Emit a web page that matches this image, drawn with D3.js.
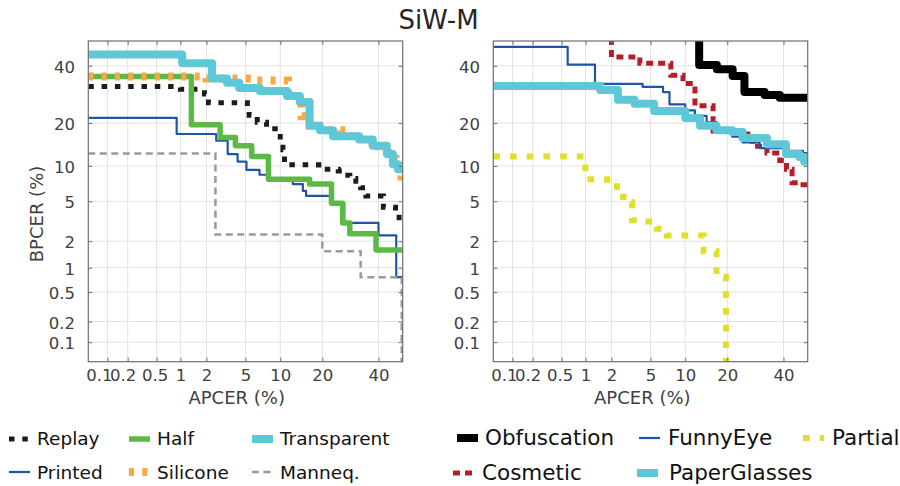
<!DOCTYPE html>
<html><head><meta charset="utf-8">
<script src="https://cdn.jsdelivr.net/npm/d3@7"></script>
<style>body{margin:0;background:#fff}svg{display:block}text{font-family:"DejaVu Sans",sans-serif}</style>
</head><body><svg id="c" width="900" height="486"></svg>
<script>
// ---- data: [APCER %, BPCER %] step points ----
const replay = [[0.05,32],[1.0,31],[1.9,29.3],[2.1,26.3],[5.2,24],[5.4,22.3],[6.4,20.2],[7.7,18.4],[10,15.2],[10.5,13.2],[10.8,10.2],[19,9.4],[25,9.1],[26.5,8.4],[29,7.9],[31.2,7.5],[33,6.6],[35,5.6],[42,4.4],[47,3.9],[48.5,3.1],[50,3.1]];
const printed = [[0.05,21.5],[0.9,17],[2.55,15.3],[3.35,12.3],[4.2,10.8],[5.1,9.3],[6.7,8.5],[8,7.8],[12.5,7.1],[14.8,6.2],[15.6,5.6],[22.5,4.7],[27,3.1],[40,2.3],[47.3,0.77],[50,0.77]];
const half = [[0.05,35.8],[1.35,19.5],[2.8,16.1],[4,14.1],[5.7,11.8],[8,7.8],[16.5,7.1],[22.8,4.8],[26.5,3.1],[29,2.4],[39,1.6],[50,1.6]];
const silicone = [[0.05,35.8],[2,35],[6,34.3],[11.5,28.5],[14.5,22],[16.5,19.2],[21,18],[26,16.5],[33,15],[40,14],[44,12.3],[47,11.5],[49.5,7],[50,7]];
const transparent = [[0.05,44.5],[1.05,41],[2.3,35],[3.3,33.4],[4.35,31.5],[6.75,30.4],[11.3,28.6],[14.1,26.6],[16.5,19.2],[19.3,18],[23.3,16.4],[32.4,15.6],[37.7,14.1],[43.4,12.3],[45.9,10.3],[48,9.4],[50,9.4]];
const manneq = [[0.05,12.4],[2.5,2.35],[20,1.55],[33,0.77],[49.6,0.03],[50,0.03]];

const obfuscation = [[12.8,70],[12.8,40.3],[17.1,38.6],[21.6,36],[25.4,30],[32.6,29],[38.5,28],[50,28]];
const cosmetic = [[2,70],[2,43.5],[3.95,41],[7.6,36.3],[9.6,33.1],[11.9,25.3],[16.1,17.8],[23.8,17.8],[24.8,17],[28.2,14],[33.5,12.5],[38.5,11],[41.2,9.4],[43.5,7.3],[46.5,7],[50,7]];
const funnyEye = [[0.05,47.6],[0.6,40.4],[1.3,33],[4.2,31.9],[6.5,30],[7.4,25.8],[10,23.8],[11.9,22.1],[14.5,20.2],[17.1,17.8],[21.5,16.3],[24.8,14.9],[30.7,13.6],[41.3,13],[48,12.5],[50,12.5]];
const paperGlasses = [[0.05,32.2],[1.5,30.8],[2.35,27.3],[3.5,26],[5.4,23.6],[10,21.5],[13,19.2],[17,18],[21.5,17.5],[24.8,16],[33.5,14.5],[41,12.3],[46.5,11.7],[48.5,10.8],[50,10.8]];
const partial = [[0.05,11.8],[1.0,7.8],[1.8,6.8],[2.3,5.5],[2.7,4.9],[3.3,3.3],[4,3.2],[5.7,2.7],[7,2.3],[13.8,1.55],[17,0.78],[19.6,0.03],[50,0.03]];

const tickValues = [0.1,0.2,0.5,1,2,5,10,20,40];
const tickLabels = ["0.1","0.2","0.5","1","2","5","10","20","40"];
const leftNames = ["Replay","Printed","Half","Silicone","Transparent","Manneq."];
const rightNames = ["Obfuscation","Cosmetic","FunnyEye","PaperGlasses","Partial"];

// ---- styles / layout ----
const styles = {
  "Replay":{c:"#1c1c1c",w:5,dash:"5.5,7.8"},
  "Printed":{c:"#1f55a6",w:2.2,dash:null},
  "Half":{c:"#5cb946",w:5.5,dash:null},
  "Silicone":{c:"#f8a845",w:8,dash:"5,8.3"},
  "Transparent":{c:"#5ec8d8",w:8,dash:null},
  "Manneq.":{c:"#9a9a9a",w:2.5,dash:"7,4.5"},
  "Obfuscation":{c:"#000000",w:8,dash:null},
  "Cosmetic":{c:"#b41e28",w:5,dash:"7,5"},
  "FunnyEye":{c:"#1f55a6",w:2.2,dash:null},
  "PaperGlasses":{c:"#5ec8d8",w:8,dash:null},
  "Partial":{c:"#dfe02a",w:6,dash:"6.7,10"}
};
const xLabelShift = [-8.6,-5,-2,0,0,0,0,0,0];
const leftData = [replay,printed,half,silicone,transparent,manneq];
const rightData = [obfuscation,cosmetic,funnyEye,paperGlasses,partial];

// inverse normal CDF (Acklam)
function probit(p){
  const a=[-3.969683028665376e+01,2.209460984245205e+02,-2.759285104469687e+02,1.383577518672690e+02,-3.066479806614716e+01,2.506628277459239e+00];
  const b=[-5.447609879822406e+01,1.615858368580409e+02,-1.556989798598866e+02,6.680131188771972e+01,-1.328068155288572e+01];
  const c=[-7.784894002430293e-03,-3.223964580411365e-01,-2.400758277161838e+00,-2.549732539343734e+00,4.374664141464968e+00,2.938163982698783e+00];
  const d=[7.784695709041462e-03,3.224671290700398e-01,2.445134137142996e+00,3.754408661907416e+00];
  const pl=0.02425, ph=1-pl; let q,r;
  if(p<pl){q=Math.sqrt(-2*Math.log(p));return (((((c[0]*q+c[1])*q+c[2])*q+c[3])*q+c[4])*q+c[5])/((((d[0]*q+d[1])*q+d[2])*q+d[3])*q+1);}
  if(p<=ph){q=p-0.5;r=q*q;return (((((a[0]*r+a[1])*r+a[2])*r+a[3])*r+a[4])*r+a[5])*q/(((((b[0]*r+b[1])*r+b[2])*r+b[3])*r+b[4])*r+1);}
  q=Math.sqrt(-2*Math.log(1-p));return -(((((c[0]*q+c[1])*q+c[2])*q+c[3])*q+c[4])*q+c[5])/((((d[0]*q+d[1])*q+d[2])*q+d[3])*q+1);
}
function probitScale(r0,r1){
  const lin=d3.scaleLinear().domain([probit(0.0005),probit(0.5)]).range([r0,r1]);
  const f=v=>lin(probit(v/100));
  f.range=()=>lin.range(); f.domain=()=>[0.05,50]; f.copy=()=>probitScale(r0,r1);
  return f;
}

const svg=d3.select("#c");
const TOP=41, BOT=361.7;
const fmt=d=>tickLabels[tickValues.indexOf(d)];

function panel(id,x0,x1,names,datas,xlabX,withY){
  const xs=probitScale(x0,x1), ys=probitScale(BOT,TOP);
  const g=svg.append("g");
  const cp=g.append("clipPath").attr("id","clip"+id);
  cp.append("rect").attr("x",x0).attr("y",TOP).attr("width",x1-x0).attr("height",BOT-TOP);
  // grid
  g.append("g").selectAll("line").data(tickValues).join("line")
    .attr("x1",d=>xs(d)).attr("x2",d=>xs(d)).attr("y1",TOP).attr("y2",BOT)
    .attr("stroke","#e3e3e3").attr("stroke-width",1);
  g.append("g").selectAll("line").data(tickValues).join("line")
    .attr("x1",x0).attr("x2",x1).attr("y1",d=>ys(d)).attr("y2",d=>ys(d))
    .attr("stroke","#e3e3e3").attr("stroke-width",1);
  // curves
  const line=d3.line().x(d=>xs(d[0])).y(d=>ys(d[1])).curve(d3.curveStepAfter);
  const cg=g.append("g").attr("clip-path","url(#clip"+id+")");
  names.forEach((n,i)=>{
    const s=styles[n];
    cg.append("path").attr("d",line(datas[i])).attr("fill","none")
      .attr("stroke",s.c).attr("stroke-width",s.w)
      .attr("stroke-dasharray",s.dash).attr("stroke-linejoin",s.dash?"miter":"round")
      .attr("stroke-linecap","butt");
  });
  // axes
  const ax=(gen,tr,labels)=>{
    const a=g.append("g").attr("transform",tr).call(gen);
    a.select(".domain").remove();
    a.selectAll("line").attr("stroke","#6f6f6f");
    a.selectAll("text").attr("fill","#404040").style("font-size","16.5px").style("font-family","DejaVu Sans");
    if(!labels) a.selectAll("text").remove();
    return a;
  };
  const ba=ax(d3.axisBottom(xs).tickValues(tickValues).tickFormat(fmt).tickSizeInner(-4).tickSizeOuter(0).tickPadding(7.3),`translate(0,${BOT})`,true);
  ba.selectAll("text").attr("dx",d=>xLabelShift[tickValues.indexOf(d)]);
  ax(d3.axisTop(xs).tickValues(tickValues).tickFormat(fmt).tickSizeInner(-4).tickSizeOuter(0),`translate(0,${TOP})`,false);
  const la=ax(d3.axisLeft(ys).tickValues(tickValues).tickFormat(fmt).tickSizeInner(-4).tickSizeOuter(0).tickPadding(13.3),`translate(${x0},0)`,true);
  la.selectAll("text").attr("dy","0.4em");
  ax(d3.axisRight(ys).tickValues(tickValues).tickFormat(fmt).tickSizeInner(-4).tickSizeOuter(0),`translate(${x1},0)`,false);
  g.append("rect").attr("x",x0).attr("y",TOP).attr("width",x1-x0).attr("height",BOT-TOP)
    .attr("fill","none").attr("stroke","#6f6f6f").attr("stroke-width",1.2);
  g.append("text").attr("x",xlabX).attr("y",404).attr("text-anchor","middle")
    .style("font-size","18px").attr("fill","#404040").text("APCER (%)");
  if(withY){
    g.append("text").attr("transform","translate(43,214) rotate(-90)").attr("text-anchor","middle")
      .style("font-size","18px").attr("fill","#404040").text("BPCER (%)");
  }
}
panel("L",88.3,402.7,leftNames,leftData,236.7,true);
panel("R",493.3,807.7,rightNames,rightData,642.3,false);

svg.append("text").attr("x",438.5).attr("y",29).attr("text-anchor","middle")
  .style("font-size","26px").attr("fill","#262626").text("SiW-M");

// legends
const leftLegendPos = [[9,439,37,445],[9,472,37,479],[129,439,157,445],[129,472,157,479],[252,439,280,445],[252,472,280,479]];
const rightLegendPos = [[457,438,485,445],[453,473,482,480],[639,438,668,445],[637,473,669,480],[803,438,832,445]];
function legend(names,pos,fs){
  const lg=svg.append("g");
  names.forEach((n,i)=>{
    const s=styles[n],p=pos[i];
    lg.append("line").attr("x1",p[0]).attr("x2",p[0]+21).attr("y1",p[1]).attr("y2",p[1])
      .attr("stroke",s.c).attr("stroke-width",s.w).attr("stroke-dasharray",s.dash);
    lg.append("text").attr("x",p[2]).attr("y",p[3]).style("font-size",fs+"px").attr("fill","#111").text(n);
  });
}
legend(leftNames,leftLegendPos,18.5);
legend(rightNames,rightLegendPos,21.5);
</script></body></html>
